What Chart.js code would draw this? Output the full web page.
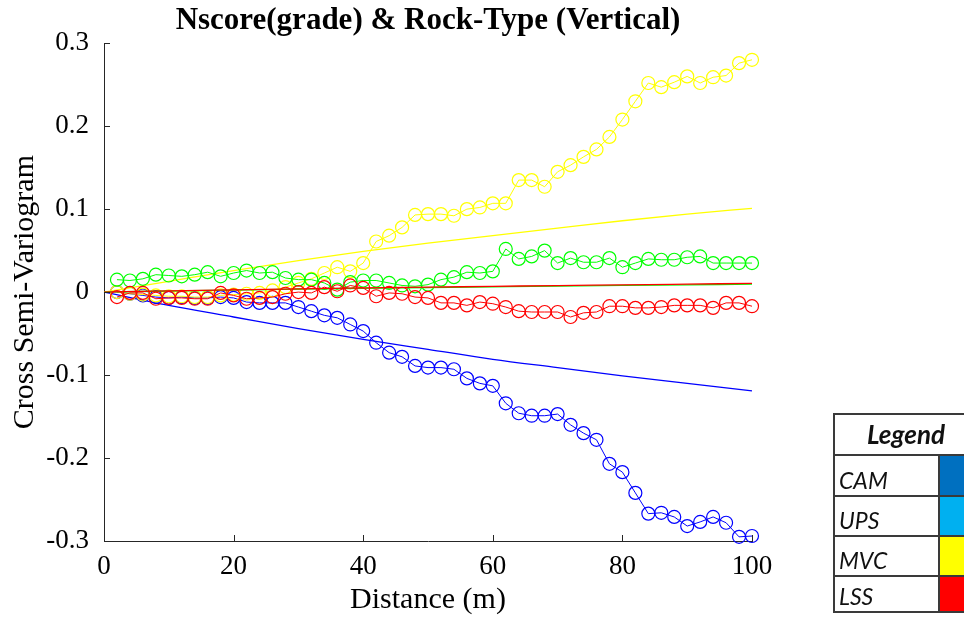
<!DOCTYPE html>
<html>
<head>
<meta charset="utf-8">
<title>Nscore(grade) &amp; Rock-Type (Vertical)</title>
<script src="https://cdn.jsdelivr.net/npm/chart.js@4"></script>
<style>
  body { margin: 0; background: #fff; }
  #wrap { position: relative; width: 964px; height: 621px; overflow: hidden; }
  #key {
    position: absolute; left: 833px; top: 413px; width: 144px;
    border-collapse: collapse; table-layout: fixed;
    font-family: Lato, "Open Sans", sans-serif; font-style: italic;
    font-size: 23px; color: #111;
  }
  #key th, #key td { border: 2px solid #3a3a3a; padding: 0 0 3px 4px; vertical-align: bottom; text-align: left; line-height: 1; }
  #key th { font-weight: bold; font-size: 26px; text-align: center; vertical-align: middle; padding: 0 0 2px 0; }
</style>
</head>
<body>
<div id="wrap">
  <canvas id="variogram" width="964" height="621"></canvas>
  <table id="key">
    <colgroup><col style="width:105px"><col style="width:39px"></colgroup>
    <tr style="height:41px"><th colspan="2">Legend</th></tr>
    <tr style="height:41px"><td>CAM</td><td style="background:#0070c0"></td></tr>
    <tr style="height:40px"><td>UPS</td><td style="background:#00b0f0"></td></tr>
    <tr style="height:40px"><td>MVC</td><td style="background:#ffff00"></td></tr>
    <tr style="height:36px"><td>LSS</td><td style="background:#ff0000"></td></tr>
  </table>
</div>
<script>
// lag distances (m) of the experimental points
const lags = [2, 4, 6, 8, 10, 12, 14, 16, 18, 20, 22, 24, 26, 28, 30, 32, 34, 36, 38, 40,
  42, 44, 46, 48, 50, 52, 54, 56, 58, 60, 62, 64, 66, 68, 70, 72, 74, 76, 78, 80,
  82, 84, 86, 88, 90, 92, 94, 96, 98, 100];

// experimental cross semi-variogram values
const blueExp = [0.000, -0.002, -0.004, -0.006, -0.007, -0.006, -0.007, -0.007, -0.006, -0.007,
  -0.012, -0.013, -0.013, -0.013, -0.018, -0.023, -0.028, -0.031, -0.039, -0.047,
  -0.061, -0.073, -0.078, -0.089, -0.091, -0.091, -0.093, -0.104, -0.110, -0.113,
  -0.134, -0.146, -0.149, -0.149, -0.147, -0.160, -0.170, -0.178, -0.207, -0.217,
  -0.242, -0.267, -0.266, -0.271, -0.282, -0.277, -0.271, -0.278, -0.295, -0.294];
const greenExp = [0.015, 0.014, 0.016, 0.021, 0.020, 0.019, 0.021, 0.024, 0.019, 0.023,
  0.026, 0.023, 0.024, 0.017, 0.015, 0.015, 0.011, 0.003, 0.012, 0.014,
  0.014, 0.011, 0.008, 0.007, 0.009, 0.015, 0.018, 0.024, 0.023, 0.025,
  0.052, 0.040, 0.043, 0.050, 0.035, 0.041, 0.036, 0.036, 0.041, 0.030,
  0.035, 0.040, 0.039, 0.039, 0.042, 0.043, 0.035, 0.035, 0.035, 0.035];
const yellowExp = [0.000, -0.002, -0.003, -0.004, -0.005, -0.005, -0.006, -0.006, -0.004, -0.003,
  -0.002, -0.001, 0.002, 0.006, 0.011, 0.016, 0.023, 0.030, 0.025, 0.035,
  0.061, 0.068, 0.078, 0.093, 0.094, 0.094, 0.092, 0.100, 0.102, 0.107,
  0.107, 0.135, 0.135, 0.127, 0.145, 0.153, 0.163, 0.172, 0.187, 0.208,
  0.230, 0.252, 0.247, 0.253, 0.260, 0.252, 0.259, 0.261, 0.276, 0.280];
const redExp = [-0.006, -0.001, -0.001, -0.008, -0.007, -0.007, -0.008, -0.008, -0.001, -0.004,
  -0.008, -0.007, -0.006, -0.002, 0.000, -0.001, 0.006, 0.001, 0.008, 0.005,
  -0.005, -0.001, -0.002, -0.006, -0.007, -0.013, -0.013, -0.016, -0.012, -0.014,
  -0.018, -0.023, -0.024, -0.024, -0.024, -0.030, -0.025, -0.024, -0.017, -0.017,
  -0.019, -0.019, -0.018, -0.016, -0.016, -0.016, -0.019, -0.013, -0.013, -0.017];

// fitted model curves
const modelLags = [0, 10, 20, 30, 40, 50, 60, 70, 80, 90, 100];
const blueModel = [0, -0.016, -0.030, -0.044, -0.057, -0.069, -0.081, -0.091, -0.101, -0.110, -0.119];
const yellowModel = [0, 0.013, 0.026, 0.038, 0.049, 0.059, 0.068, 0.077, 0.086, 0.094, 0.101];
const greenModel = [0, 0.0013, 0.0025, 0.0036, 0.0046, 0.0055, 0.0064, 0.0073, 0.0081, 0.0088, 0.0095];
const redModel = [0, 0.0014, 0.0027, 0.0039, 0.0050, 0.0060, 0.0069, 0.0079, 0.0087, 0.0096, 0.0105];

const xTicks = [0, 20, 40, 60, 80, 100];
const yTicks = [-0.3, -0.2, -0.1, 0, 0.1, 0.2, 0.3];

const BLUE = '#0000ff', GREEN = '#00ff00', YELLOW = '#ffff00', RED = '#ff0000';
const serif = '"Liberation Serif", "Times New Roman", serif';

function pts(xs, ys) {
  return xs.map((x, i) => ({ x: x, y: ys[i] }));
}

function expSet(label, color, vals) {
  return {
    label: label, data: pts(lags, vals),
    borderColor: color, backgroundColor: 'rgba(0,0,0,0)',
    borderWidth: 1, pointRadius: 6.5, pointBorderWidth: 1.2,
    pointHoverRadius: 6.5, tension: 0, clip: false
  };
}

function modelSet(label, color, vals) {
  return {
    label: label, data: pts(modelLags, vals),
    borderColor: color, borderWidth: 1.3, pointRadius: 0,
    cubicInterpolationMode: 'monotone', clip: false
  };
}

// MATLAB style tick marks pointing into the plot
const inwardTicks = {
  id: 'inwardTicks',
  afterDraw(chart) {
    const { ctx, chartArea, scales } = chart;
    ctx.save();
    ctx.strokeStyle = '#262626';
    ctx.lineWidth = 1;
    ctx.beginPath();
    xTicks.forEach(v => {
      const px = Math.round(scales.x.getPixelForValue(v)) + 0.5;
      ctx.moveTo(px, chartArea.bottom);
      ctx.lineTo(px, chartArea.bottom - 6);
    });
    yTicks.forEach(v => {
      const py = Math.round(scales.y.getPixelForValue(v)) + 0.5;
      ctx.moveTo(chartArea.left, py);
      ctx.lineTo(chartArea.left + 6, py);
    });
    ctx.stroke();
    ctx.restore();
  }
};

new Chart(document.getElementById('variogram'), {
  type: 'line',
  data: {
    datasets: [
      expSet('red', RED, redExp),
      modelSet('red model', RED, redModel),
      expSet('green', GREEN, greenExp),
      modelSet('green model', GREEN, greenModel),
      expSet('yellow', YELLOW, yellowExp),
      modelSet('yellow model', YELLOW, yellowModel),
      expSet('blue', BLUE, blueExp),
      modelSet('blue model', BLUE, blueModel)
    ]
  },
  options: {
    responsive: false,
    animation: false,
    layout: { padding: { left: 0, right: 212, top: 0, bottom: 0 } },
    plugins: {
      legend: { display: false },
      tooltip: { enabled: false },
      title: {
        display: true,
        fullSize: false,
        text: 'Nscore(grade) & Rock-Type (Vertical)',
        color: '#000',
        font: { family: serif, size: 31, weight: 'bold' },
        padding: { top: 2, bottom: 4 }
      }
    },
    scales: {
      x: {
        type: 'linear', min: 0, max: 100,
        afterFit: s => { s.height = 80; },
        afterBuildTicks: s => { s.ticks = xTicks.map(v => ({ value: v })); },
        ticks: { color: '#000', font: { family: serif, size: 27 }, padding: 10, maxRotation: 0 },
        grid: { drawOnChartArea: false, drawTicks: false },
        border: { color: '#262626', width: 1 },
        title: {
          display: true, text: 'Distance (m)', color: '#000',
          font: { family: serif, size: 30 }, padding: { top: 0, bottom: 3 }
        }
      },
      y: {
        min: -0.3, max: 0.3,
        afterFit: s => { s.width = 104; },
        afterBuildTicks: s => { s.ticks = yTicks.map(v => ({ value: v })); },
        ticks: {
          color: '#000', font: { family: serif, size: 27 }, padding: 15,
          callback: v => String(+Number(v).toFixed(1))
        },
        grid: { drawOnChartArea: false, drawTicks: false },
        border: { color: '#262626', width: 1 },
        title: {
          display: true, text: 'Cross Semi-Variogram', color: '#000',
          font: { family: serif, size: 30 }, padding: { top: 7, bottom: 0 }
        }
      }
    }
  },
  plugins: [inwardTicks]
});
</script>
</body>
</html>
